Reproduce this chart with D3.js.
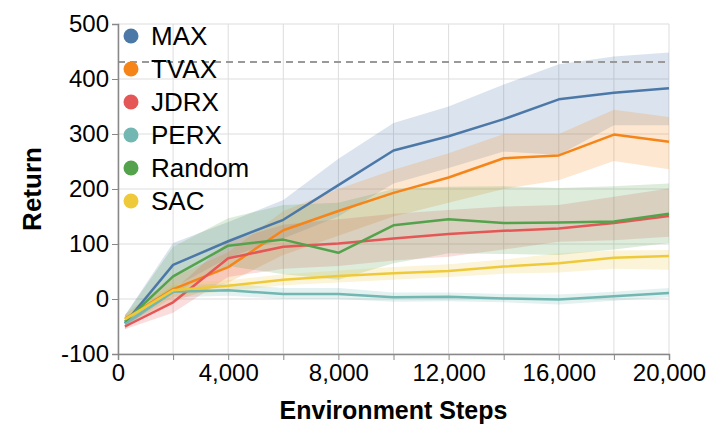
<!DOCTYPE html>
<html>
<head>
<meta charset="utf-8">
<script src="https://cdn.jsdelivr.net/npm/d3@7"></script>
<style>
  html, body { margin: 0; padding: 0; background: #fff; }
  svg { display: block; }
  text { font-family: "Liberation Sans", Arial, Helvetica, sans-serif; }
</style>
</head>
<body>
<svg id="chart" width="716" height="427"></svg>
<script>
// ---- data ----
const steps = [250, 2000, 4000, 6000, 8000, 10000, 12000, 14000, 16000, 18000, 20000];
const seriesNames = ["MAX", "TVAX", "JDRX", "PERX", "Random", "SAC"];
const seriesColors = ["#4c78a8", "#f58518", "#e45756", "#72b7b2", "#54a24b", "#eeca3b"];

const maxMean  = [-44, 62, 105, 144, 207, 270, 296, 327, 363, 375, 383];
const maxLo    = [-55, 20, 75, 110, 150, 210, 238, 268, 262, 316, 316];
const maxHi    = [-30, 102, 140, 180, 255, 320, 350, 390, 427, 441, 448];

const tvaxMean = [-36, 18, 58, 125, 160, 193, 221, 256, 261, 299, 286];
const tvaxLo   = [-45, -5, 30, 80, 115, 150, 175, 200, 216, 251, 236];
const tvaxHi   = [-28, 40, 85, 160, 200, 235, 265, 300, 300, 344, 331];

const jdrxMean = [-50, -6, 74, 95, 101, 110, 118, 124, 128, 138, 151];
const jdrxLo   = [-55, -25, 40, 55, 60, 70, 77, 90, 104, 107, 113];
const jdrxHi   = [-42, 15, 105, 135, 145, 155, 162, 168, 171, 186, 201];

const perxMean = [-45, 13, 16, 9, 9, 3, 4, 1, -1, 5, 11];
const perxLo   = [-52, 3, 6, 0, 0, -5, -4, -6, -10, -3, 3];
const perxHi   = [-38, 25, 28, 20, 20, 12, 12, 9, 8, 13, 20];

const randMean = [-41, 41, 97, 108, 84, 134, 145, 138, 139, 141, 155];
const randLo   = [-50, 10, 60, 45, 35, 65, 83, 82, 80, 90, 102];
const randHi   = [-30, 95, 147, 171, 175, 200, 204, 205, 202, 205, 210];

const sacMean  = [-37, 16, 24, 35, 42, 47, 51, 59, 65, 75, 78];
const sacLo    = [-45, 5, 14, 25, 30, 35, 40, 46, 48, 55, 53];
const sacHi    = [-30, 28, 34, 45, 52, 58, 63, 72, 83, 88, 89];

const referenceLine = 431;
const xTickValues = [0, 4000, 8000, 12000, 16000, 20000];
const xGridValues = [0, 2000, 4000, 6000, 8000, 10000, 12000, 14000, 16000, 18000, 20000];
const yTickValues = [-100, 0, 100, 200, 300, 400, 500];

const means = [maxMean, tvaxMean, jdrxMean, perxMean, randMean, sacMean];
const los = [maxLo, tvaxLo, jdrxLo, perxLo, randLo, sacLo];
const his = [maxHi, tvaxHi, jdrxHi, perxHi, randHi, sacHi];

// ---- layout ----
const margin = { left: 118, right: 47, top: 24, bottom: 73 };
const W = 716, H = 427;
const svg = d3.select("#chart");

const x = d3.scaleLinear().domain([0, 20000]).range([margin.left, W - margin.right]);
const y = d3.scaleLinear().domain([-100, 500]).range([H - margin.bottom, margin.top]);

// grid
const grid = svg.append("g");
grid.selectAll("line.vg").data(xGridValues).join("line")
  .attr("x1", d => x(d)).attr("x2", d => x(d))
  .attr("y1", y(-100)).attr("y2", y(500))
  .attr("stroke", "#ddd").attr("stroke-width", 1);
grid.selectAll("line.hg").data(yTickValues).join("line")
  .attr("x1", x(0)).attr("x2", x(20000))
  .attr("y1", d => y(d)).attr("y2", d => y(d))
  .attr("stroke", "#ddd").attr("stroke-width", 1);

// bands
const area = d3.area()
  .x(d => x(d.s)).y0(d => y(d.lo)).y1(d => y(d.hi));
const line = d3.line().x(d => x(d.s)).y(d => y(d.v));

seriesNames.forEach((name, i) => {
  const pts = steps.map((s, j) => ({ s, lo: los[i][j], hi: his[i][j] }));
  svg.append("path").datum(pts)
    .attr("d", area)
    .attr("fill", seriesColors[i])
    .attr("fill-opacity", 0.2);
});

// reference dashed line
svg.append("line")
  .attr("x1", x(0)).attr("x2", x(20000))
  .attr("y1", y(referenceLine)).attr("y2", y(referenceLine))
  .attr("stroke", "#999").attr("stroke-width", 2)
  .attr("stroke-dasharray", "7,5");

// lines
seriesNames.forEach((name, i) => {
  const pts = steps.map((s, j) => ({ s, v: means[i][j] }));
  svg.append("path").datum(pts)
    .attr("d", line)
    .attr("fill", "none")
    .attr("stroke", seriesColors[i])
    .attr("stroke-width", 2.5)
    .attr("stroke-linejoin", "round");
});

// axes
const xAxis = d3.axisBottom(x).tickValues(xGridValues).tickSize(6).tickPadding(4)
  .tickFormat(d => xTickValues.includes(d) ? d3.format(",")(d) : "");
const gx = svg.append("g").attr("transform", `translate(0,${y(-100)})`).call(xAxis);
gx.select(".domain").attr("stroke", "#888").attr("stroke-width", 1.5);
gx.selectAll(".tick line").attr("stroke", "#888");
gx.selectAll(".tick text").attr("font-size", 24).attr("fill", "#000")
  .attr("font-family", "'Liberation Sans', Arial, sans-serif");

const yAxis = d3.axisLeft(y).tickValues(yTickValues).tickSize(6).tickPadding(3)
  .tickFormat(d => String(d));
const gy = svg.append("g").attr("transform", `translate(${x(0)},0)`).call(yAxis);
gy.select(".domain").attr("stroke", "#888").attr("stroke-width", 1.5);
gy.selectAll(".tick line").attr("stroke", "#888");
gy.selectAll(".tick text").attr("font-size", 24).attr("fill", "#000")
  .attr("font-family", "'Liberation Sans', Arial, sans-serif");

// axis titles
svg.append("text")
  .attr("x", (x(0) + x(20000)) / 2).attr("y", 419)
  .attr("text-anchor", "middle")
  .attr("font-size", 25).attr("font-weight", "bold")
  .text("Environment Steps");
svg.append("text")
  .attr("transform", `translate(41,${(y(-100) + y(500)) / 2}) rotate(-90)`)
  .attr("text-anchor", "middle")
  .attr("font-size", 26).attr("font-weight", "bold")
  .text("Return");

// legend
const legend = svg.append("g");
seriesNames.forEach((name, i) => {
  const cy = 36 + i * 33;
  legend.append("circle").attr("cx", 131).attr("cy", cy).attr("r", 7.5)
    .attr("fill", seriesColors[i]);
  legend.append("text").attr("x", 151).attr("y", cy + 9)
    .attr("font-size", 26).attr("fill", "#000").text(name);
});
</script>
</body>
</html>
